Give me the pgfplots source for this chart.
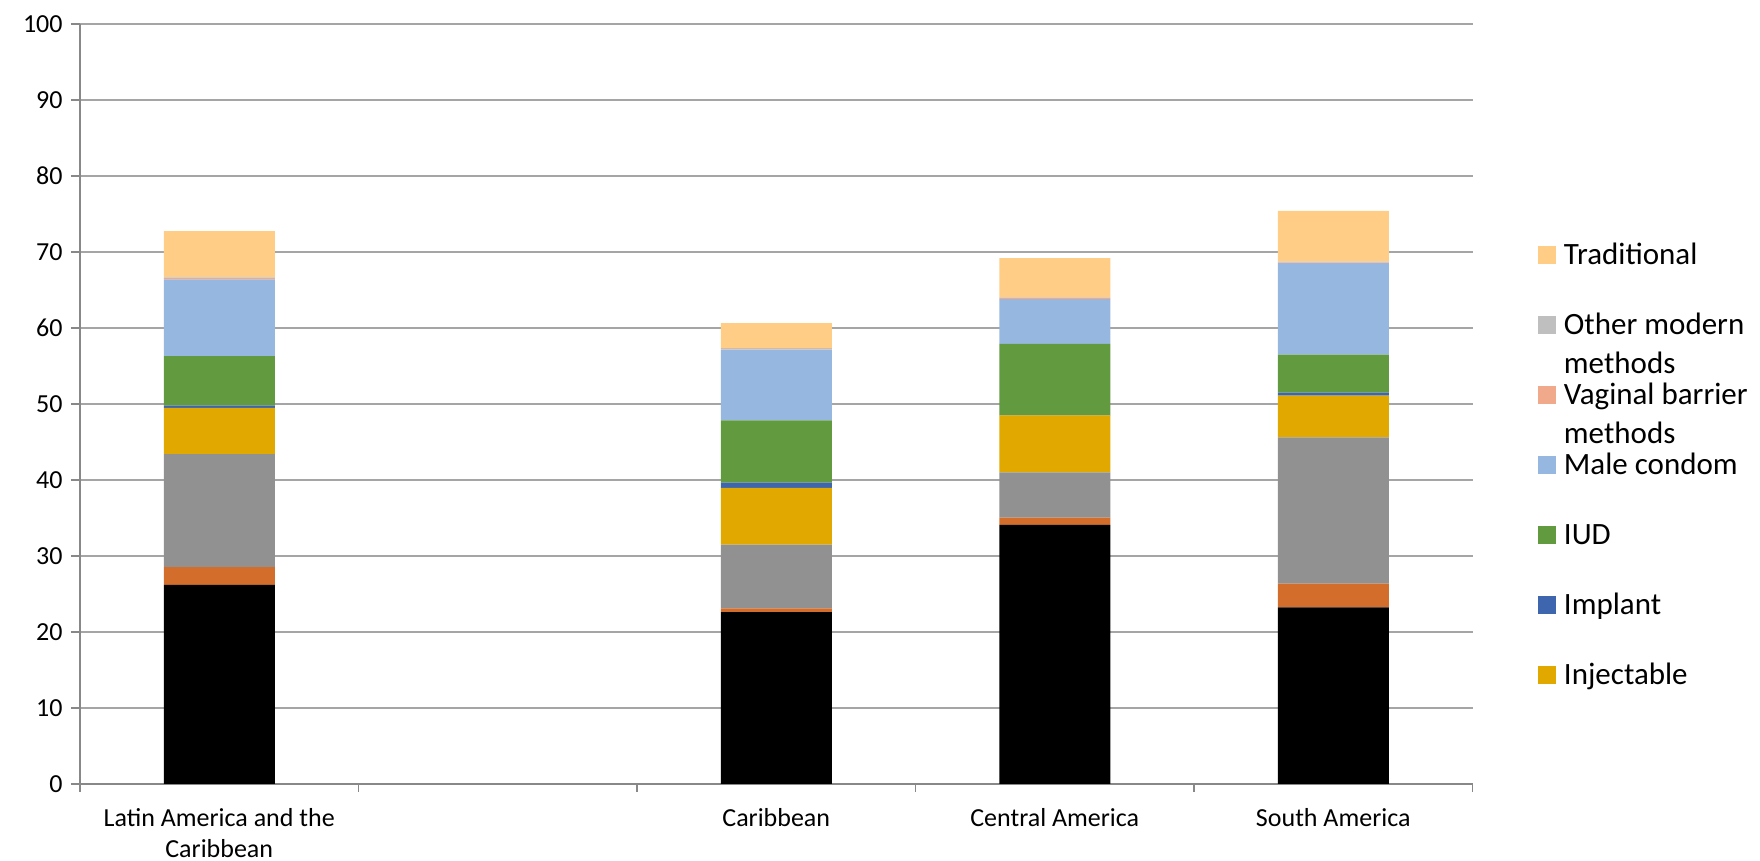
\documentclass[border=0pt]{standalone}
\usepackage{pgfplots}
\pgfplotsset{compat=1.18}
\usepackage{fontspec}
\setmainfont{Carlito}
\definecolor{cBlack}{HTML}{000000}
\definecolor{cOrange}{HTML}{D26D2B}
\definecolor{cGray}{HTML}{919191}
\definecolor{cInj}{HTML}{E1A900}
\definecolor{cImp}{HTML}{3D66AE}
\definecolor{cIUD}{HTML}{629A3F}
\definecolor{cCond}{HTML}{96B7DF}
\definecolor{cVag}{HTML}{F0A98B}
\definecolor{cOther}{HTML}{BFBFBF}
\definecolor{cTrad}{HTML}{FFCD85}
\definecolor{axisgray}{HTML}{888888}
\definecolor{gridgray}{HTML}{A5A5A5}
\begin{document}
\begin{tikzpicture}
\useasboundingbox (0,0) rectangle (880pt,430.5pt);
\begin{axis}[
  at={(40pt,38.5pt)}, anchor=south west,
  scale only axis, width=696.25pt, height=380pt,
  xmin=-0.5, xmax=4.5, ymin=0, ymax=100,
  ybar stacked, bar width=55.5pt,
  axis x line*=bottom, axis y line*=left,
  axis line style={draw=axisgray, line width=0.9pt, -},
  ytick={0,10,...,100},
  ymajorgrids, grid style={draw=gridgray, line width=0.7pt},
  xtick={0,1,2,3,4},
  xticklabels={{\begin{tabular}[t]{@{}c@{}}Latin America and the\\Caribbean\end{tabular}},{},Caribbean,Central America,South America},
  minor xtick={-0.5,0.5,...,4.5},
  tick align=outside,
  major tick length=4.5pt, minor tick length=4pt,
  major x tick style={draw=none},
  minor x tick style={draw=axisgray, line width=0.7pt},
  y tick style={draw=axisgray, line width=0.7pt},
  /pgf/number format/assume math mode=true,
  yticklabel style={font=\fontsize{13pt}{15.5pt}\selectfont, anchor=east, inner sep=0pt, xshift=-4pt},
  xticklabel style={font=\fontsize{13pt}{15.5pt}\selectfont, anchor=base, inner sep=0pt, yshift=-17pt},
  legend cell align=left,
  legend image code/.code={\fill[#1] (0pt,0pt) rectangle (9pt,9pt);},
  reverse legend,
  legend style={at={(axis description cs:1.047,0.7154)}, anchor=north west,
    draw=none, fill=none, inner sep=0pt, outer sep=0pt,
    row sep=19pt, column sep=4pt,
    font=\fontsize{15.5pt}{19.5pt}\selectfont,
    nodes={inner sep=0pt, text height=12pt, text depth=4pt, anchor=base west}},
]
\addplot[fill=cBlack, draw=none, forget plot] coordinates {(0,26.2) (2,22.6) (3,34.1) (4,23.25)};
\addplot[fill=cOrange, draw=none, forget plot] coordinates {(0,2.35) (2,0.5) (3,0.95) (4,3.1)};
\addplot[fill=cGray, draw=none, forget plot] coordinates {(0,14.85) (2,8.4) (3,5.95) (4,19.25)};
\addplot[fill=cInj, draw=none] coordinates {(0,6.1) (2,7.45) (3,7.5) (4,5.5)};
\addlegendentry{Injectable}
\addplot[fill=cImp, draw=none] coordinates {(0,0.3) (2,0.7) (3,0.05) (4,0.4)};
\addlegendentry{Implant}
\addplot[fill=cIUD, draw=none] coordinates {(0,6.5) (2,8.2) (3,9.35) (4,5.0)};
\addlegendentry{IUD}
\addplot[fill=cCond, draw=none] coordinates {(0,10.1) (2,9.25) (3,5.9) (4,12.05)};
\addlegendentry{Male condom}
\addplot[fill=cVag, draw=none] coordinates {(0,0.15) (2,0.05) (3,0.15) (4,0.1)};
\addlegendentry{\begin{tabular}[t]{@{}l@{}}Vaginal barrier\\methods\end{tabular}}
\addplot[fill=cOther, draw=none] coordinates {(0,0.1) (2,0.2) (3,0.05) (4,0.07)};
\addlegendentry{\begin{tabular}[t]{@{}l@{}}Other modern\\methods\end{tabular}}
\addplot[fill=cTrad, draw=none] coordinates {(0,6.1) (2,3.3) (3,5.2) (4,6.7)};
\addlegendentry{Traditional}
\end{axis}
\end{tikzpicture}
\end{document}
